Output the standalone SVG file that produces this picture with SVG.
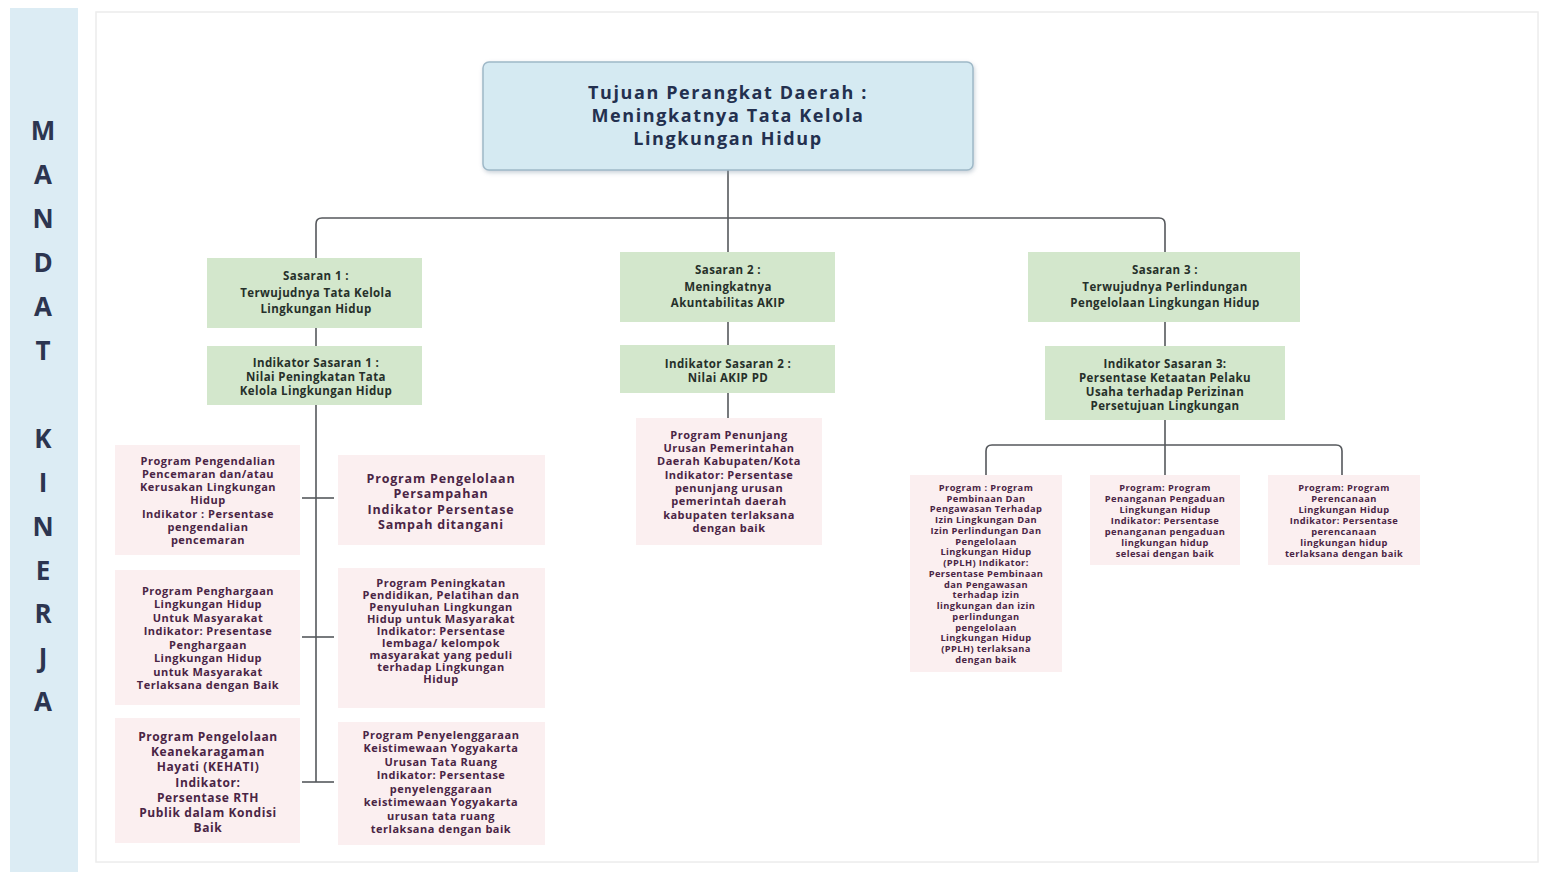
<svg xmlns="http://www.w3.org/2000/svg" width="1544" height="872" viewBox="0 0 1544 872">
<style>
.bg{fill:#ffffff}
.side{fill:#dcecf4}
.frame{fill:none;stroke:#ececec;stroke-width:1.5}
.mk{font-family:"Open Sans","Liberation Sans",sans-serif;font-weight:bold;font-size:26px;fill:#2c3550;text-anchor:middle}
.top{fill:#d5eaf2;stroke:#9fb9c8;stroke-width:1.5}
.tt{font-family:"Open Sans","Liberation Sans",sans-serif;font-weight:bold;font-size:18px;fill:#23304f;text-anchor:middle;letter-spacing:1.6px}
.grn{fill:#d3e7cc}
.gt{font-family:"Open Sans","Liberation Sans",sans-serif;font-weight:bold;font-size:11.5px;fill:#26302a;text-anchor:middle;letter-spacing:0.4px}
.pnk{fill:#fbeff0}
.pt{font-family:"Open Sans","Liberation Sans",sans-serif;font-weight:bold;font-size:11px;fill:#4a2545;text-anchor:middle;letter-spacing:0.5px}
.ps{font-size:9.3px;letter-spacing:0.4px}
.pl{font-size:12.5px;letter-spacing:0.8px}
.pm{font-size:12px;letter-spacing:0.6px}
.conn{fill:none;stroke:#55585c;stroke-width:1.6}
</style>
<defs>
<filter id="sh" x="-5%" y="-5%" width="110%" height="115%"><feDropShadow dx="1" dy="2" stdDeviation="2" flood-color="#8899aa" flood-opacity="0.45"/></filter>
</defs>
<rect class="bg" x="0" y="0" width="1544" height="872"/>
<rect class="frame" x="96" y="12" width="1442" height="850"/>
<g id="sidebar">
<rect class="side" x="10" y="8" width="68" height="864"/>
<text class="mk" x="43" y="140">M</text>
<text class="mk" x="43" y="184">A</text>
<text class="mk" x="43" y="228">N</text>
<text class="mk" x="43" y="272">D</text>
<text class="mk" x="43" y="316">A</text>
<text class="mk" x="43" y="360">T</text>
<text class="mk" x="43" y="448">K</text>
<text class="mk" x="43" y="492">I</text>
<text class="mk" x="43" y="536">N</text>
<text class="mk" x="43" y="580">E</text>
<text class="mk" x="43" y="623">R</text>
<text class="mk" x="43" y="667">J</text>
<text class="mk" x="43" y="711">A</text>
</g>
<g id="connectors">
<path class="conn" d="M728 170 V218"/>
<path class="conn" d="M316 258 V224 Q316 218 322 218 H1159 Q1165 218 1165 224 V252"/>
<path class="conn" d="M728 218 V252"/>
<path class="conn" d="M316 328 V346"/>
<path class="conn" d="M316 405 V782"/>
<path class="conn" d="M302 498 H334"/>
<path class="conn" d="M302 637 H334"/>
<path class="conn" d="M302 782 H334"/>
<path class="conn" d="M728 322 V345"/>
<path class="conn" d="M728 393 V418"/>
<path class="conn" d="M1165 322 V346"/>
<path class="conn" d="M1165 420 V475"/>
<path class="conn" d="M986 475 V451 Q986 445 992 445 H1336 Q1342 445 1342 451 V475"/>
</g>
<g id="tujuan">
<rect class="top" x="483" y="62" width="490" height="108" rx="6" filter="url(#sh)"/>
<text class="tt" x="728" y="99">Tujuan Perangkat Daerah :</text>
<text class="tt" x="728" y="122">Meningkatnya Tata Kelola</text>
<text class="tt" x="728" y="145">Lingkungan Hidup</text>
</g>
<g id="sasaran1">
<rect class="grn" x="207" y="258" width="215" height="70"/>
<text class="gt" x="316" y="280">Sasaran 1 :</text>
<text class="gt" x="316" y="297">Terwujudnya Tata Kelola</text>
<text class="gt" x="316" y="313">Lingkungan Hidup</text>
</g>
<g id="indikator1">
<rect class="grn" x="207" y="346" width="215" height="59"/>
<text class="gt" x="316" y="367">Indikator Sasaran 1 :</text>
<text class="gt" x="316" y="381">Nilai Peningkatan Tata</text>
<text class="gt" x="316" y="395">Kelola Lingkungan Hidup</text>
</g>
<g id="sasaran2">
<rect class="grn" x="620" y="252" width="215" height="70"/>
<text class="gt" x="728" y="274">Sasaran 2 :</text>
<text class="gt" x="728" y="291">Meningkatnya</text>
<text class="gt" x="728" y="307">Akuntabilitas AKIP</text>
</g>
<g id="indikator2">
<rect class="grn" x="620" y="345" width="215" height="48"/>
<text class="gt" x="728" y="368">Indikator Sasaran 2 :</text>
<text class="gt" x="728" y="382">Nilai AKIP PD</text>
</g>
<g id="sasaran3">
<rect class="grn" x="1028" y="252" width="272" height="70"/>
<text class="gt" x="1165" y="274">Sasaran 3 :</text>
<text class="gt" x="1165" y="291">Terwujudnya Perlindungan</text>
<text class="gt" x="1165" y="307">Pengelolaan Lingkungan Hidup</text>
</g>
<g id="indikator3">
<rect class="grn" x="1045" y="346" width="240" height="74"/>
<text class="gt" x="1165" y="368">Indikator Sasaran 3:</text>
<text class="gt" x="1165" y="382">Persentase Ketaatan Pelaku</text>
<text class="gt" x="1165" y="396">Usaha terhadap Perizinan</text>
<text class="gt" x="1165" y="410">Persetujuan Lingkungan</text>
</g>
<g id="prog-l1">
<rect class="pnk" x="115" y="445" width="185" height="110"/>
<text class="pt" x="208" y="465">Program Pengendalian</text>
<text class="pt" x="208" y="478">Pencemaran dan/atau</text>
<text class="pt" x="208" y="491">Kerusakan Lingkungan</text>
<text class="pt" x="208" y="504">Hidup</text>
<text class="pt" x="208" y="518">Indikator : Persentase</text>
<text class="pt" x="208" y="531">pengendalian</text>
<text class="pt" x="208" y="544">pencemaran</text>
</g>
<g id="prog-r1">
<rect class="pnk" x="338" y="455" width="207" height="90"/>
<text class="pt pl" x="441" y="483">Program Pengelolaan</text>
<text class="pt pl" x="441" y="498">Persampahan</text>
<text class="pt pl" x="441" y="514">Indikator Persentase</text>
<text class="pt pl" x="441" y="529">Sampah ditangani</text>
</g>
<g id="prog-l2">
<rect class="pnk" x="115" y="570" width="185" height="135"/>
<text class="pt" x="208" y="595">Program Penghargaan</text>
<text class="pt" x="208" y="608">Lingkungan Hidup</text>
<text class="pt" x="208" y="622">Untuk Masyarakat</text>
<text class="pt" x="208" y="635">Indikator: Presentase</text>
<text class="pt" x="208" y="649">Penghargaan</text>
<text class="pt" x="208" y="662">Lingkungan Hidup</text>
<text class="pt" x="208" y="676">untuk Masyarakat</text>
<text class="pt" x="208" y="689">Terlaksana dengan Baik</text>
</g>
<g id="prog-r2">
<rect class="pnk" x="338" y="568" width="207" height="140"/>
<text class="pt" x="441" y="587">Program Peningkatan</text>
<text class="pt" x="441" y="599">Pendidikan, Pelatihan dan</text>
<text class="pt" x="441" y="611">Penyuluhan Lingkungan</text>
<text class="pt" x="441" y="623">Hidup untuk Masyarakat</text>
<text class="pt" x="441" y="635">Indikator: Persentase</text>
<text class="pt" x="441" y="647">lembaga/ kelompok</text>
<text class="pt" x="441" y="659">masyarakat yang peduli</text>
<text class="pt" x="441" y="671">terhadap Lingkungan</text>
<text class="pt" x="441" y="683">Hidup</text>
</g>
<g id="prog-l3">
<rect class="pnk" x="115" y="718" width="185" height="125"/>
<text class="pt pm" x="208" y="741">Program Pengelolaan</text>
<text class="pt pm" x="208" y="756">Keanekaragaman</text>
<text class="pt pm" x="208" y="771">Hayati (KEHATI)</text>
<text class="pt pm" x="208" y="787">Indikator:</text>
<text class="pt pm" x="208" y="802">Persentase RTH</text>
<text class="pt pm" x="208" y="817">Publik dalam Kondisi</text>
<text class="pt pm" x="208" y="832">Baik</text>
</g>
<g id="prog-r3">
<rect class="pnk" x="338" y="722" width="207" height="123"/>
<text class="pt" x="441" y="739">Program Penyelenggaraan</text>
<text class="pt" x="441" y="752">Keistimewaan Yogyakarta</text>
<text class="pt" x="441" y="766">Urusan Tata Ruang</text>
<text class="pt" x="441" y="779">Indikator: Persentase</text>
<text class="pt" x="441" y="793">penyelenggaraan</text>
<text class="pt" x="441" y="806">keistimewaan Yogyakarta</text>
<text class="pt" x="441" y="820">urusan tata ruang</text>
<text class="pt" x="441" y="833">terlaksana dengan baik</text>
</g>
<g id="prog-m">
<rect class="pnk" x="636" y="418" width="186" height="127"/>
<text class="pt" x="729" y="439">Program Penunjang</text>
<text class="pt" x="729" y="452">Urusan Pemerintahan</text>
<text class="pt" x="729" y="465">Daerah Kabupaten/Kota</text>
<text class="pt" x="729" y="479">Indikator: Persentase</text>
<text class="pt" x="729" y="492">penunjang urusan</text>
<text class="pt" x="729" y="505">pemerintah daerah</text>
<text class="pt" x="729" y="519">kabupaten terlaksana</text>
<text class="pt" x="729" y="532">dengan baik</text>
</g>
<g id="prog-s3a">
<rect class="pnk" x="910" y="475" width="152" height="197"/>
<text class="pt ps" x="986" y="491">Program : Program</text>
<text class="pt ps" x="986" y="502">Pembinaan Dan</text>
<text class="pt ps" x="986" y="512">Pengawasan Terhadap</text>
<text class="pt ps" x="986" y="523">Izin Lingkungan Dan</text>
<text class="pt ps" x="986" y="534">Izin Perlindungan Dan</text>
<text class="pt ps" x="986" y="545">Pengelolaan</text>
<text class="pt ps" x="986" y="555">Lingkungan Hidup</text>
<text class="pt ps" x="986" y="566">(PPLH) Indikator:</text>
<text class="pt ps" x="986" y="577">Persentase Pembinaan</text>
<text class="pt ps" x="986" y="588">dan Pengawasan</text>
<text class="pt ps" x="986" y="598">terhadap izin</text>
<text class="pt ps" x="986" y="609">lingkungan dan izin</text>
<text class="pt ps" x="986" y="620">perlindungan</text>
<text class="pt ps" x="986" y="631">pengelolaan</text>
<text class="pt ps" x="986" y="641">Lingkungan Hidup</text>
<text class="pt ps" x="986" y="652">(PPLH) terlaksana</text>
<text class="pt ps" x="986" y="663">dengan baik</text>
</g>
<g id="prog-s3b">
<rect class="pnk" x="1090" y="475" width="150" height="90"/>
<text class="pt ps" x="1165" y="491">Program: Program</text>
<text class="pt ps" x="1165" y="502">Penanganan Pengaduan</text>
<text class="pt ps" x="1165" y="513">Lingkungan Hidup</text>
<text class="pt ps" x="1165" y="524">Indikator: Persentase</text>
<text class="pt ps" x="1165" y="535">penanganan pengaduan</text>
<text class="pt ps" x="1165" y="546">lingkungan hidup</text>
<text class="pt ps" x="1165" y="557">selesai dengan baik</text>
</g>
<g id="prog-s3c">
<rect class="pnk" x="1268" y="475" width="152" height="90"/>
<text class="pt ps" x="1344" y="491">Program: Program</text>
<text class="pt ps" x="1344" y="502">Perencanaan</text>
<text class="pt ps" x="1344" y="513">Lingkungan Hidup</text>
<text class="pt ps" x="1344" y="524">Indikator: Persentase</text>
<text class="pt ps" x="1344" y="535">perencanaan</text>
<text class="pt ps" x="1344" y="546">lingkungan hidup</text>
<text class="pt ps" x="1344" y="557">terlaksana dengan baik</text>
</g>
</svg>
